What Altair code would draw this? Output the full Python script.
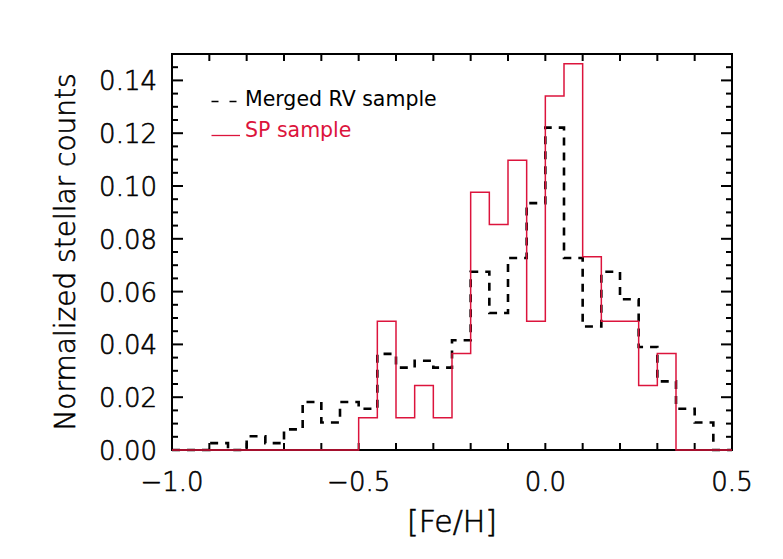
import altair as alt
import pandas as pd

# ---- data ----
bin_left = [-1.00, -0.95, -0.90, -0.85, -0.80, -0.75, -0.70, -0.65, -0.60, -0.55,
            -0.50, -0.45, -0.40, -0.35, -0.30, -0.25, -0.20, -0.15, -0.10, -0.05,
            0.00, 0.05, 0.10, 0.15, 0.20, 0.25, 0.30, 0.35, 0.40, 0.45]
x_end = 0.50

merged_rv = [0.0, 0.0, 0.0026, 0.0, 0.0052, 0.0026, 0.0078, 0.0182, 0.0104, 0.0182,
             0.0156, 0.0364, 0.0312, 0.0338, 0.0312, 0.0416, 0.0675, 0.0519, 0.0727, 0.0935,
             0.1221, 0.0727, 0.0468, 0.0675, 0.0571, 0.0390, 0.0260, 0.0156, 0.0104, 0.0]

sp_sample = [0.0, 0.0, 0.0, 0.0, 0.0, 0.0, 0.0, 0.0, 0.0, 0.0,
             0.0122, 0.0488, 0.0122, 0.0244, 0.0122, 0.0366, 0.0976, 0.0854, 0.1098, 0.0488,
             0.1341, 0.1463, 0.0732, 0.0488, 0.0488, 0.0244, 0.0366, 0.0, 0.0, 0.0]

legend_labels = ["Merged RV sample", "SP sample"]
x_title = "[Fe/H]"
y_title = "Normalized stellar counts"

x_label_values = [-1.0, -0.5, 0.0, 0.5]
y_label_values = [0.00, 0.02, 0.04, 0.06, 0.08, 0.10, 0.12, 0.14]
x_tick_values = [-1.0, -0.9, -0.8, -0.7, -0.6, -0.5, -0.4, -0.3, -0.2, -0.1,
                 0.0, 0.1, 0.2, 0.3, 0.4, 0.5]
y_minor_values = [0.005, 0.010, 0.015, 0.025, 0.030, 0.035, 0.045, 0.050, 0.055,
                  0.065, 0.070, 0.075, 0.085, 0.090, 0.095, 0.105, 0.110, 0.115,
                  0.125, 0.130, 0.135, 0.145]

RED = "#DC143C"
FONT = "DejaVu Sans"
W, H = 560, 396

def steps(vals):
    return pd.DataFrame({"x": bin_left + [x_end], "y": vals + [vals[-1]]})

xscale = alt.Scale(domain=[-1.0, 0.5], nice=False, zero=False)
yscale = alt.Scale(domain=[0.0, 0.15], nice=False, zero=False)

one = pd.DataFrame({"a": [0]})

frame = alt.Chart(one).mark_rect(fill="white", stroke="black", strokeWidth=2).encode(
    x=alt.value(0), x2=alt.value(W), y=alt.value(0), y2=alt.value(H))

black_line = alt.Chart(steps(merged_rv)).mark_line(
    interpolate="step-after", color="black", strokeWidth=2.6, strokeDash=[8, 7]
).encode(x=alt.X("x:Q", scale=xscale, axis=None), y=alt.Y("y:Q", scale=yscale, axis=None))

red_line = alt.Chart(steps(sp_sample)).mark_line(
    interpolate="step-after", color=RED, strokeWidth=1.5
).encode(x=alt.X("x:Q", scale=xscale, axis=None), y=alt.Y("y:Q", scale=yscale, axis=None))

xt = pd.DataFrame({"v": x_tick_values})
ymaj = pd.DataFrame({"v": y_label_values})
ymin = pd.DataFrame({"v": y_minor_values})
xlab = pd.DataFrame({"v": x_label_values})

tick_style = dict(color="black", strokeWidth=2)
xt_bot = alt.Chart(xt).mark_rule(**tick_style).encode(
    x=alt.X("v:Q", scale=xscale, axis=None), y=alt.value(H), y2=alt.value(H - 7))
xt_top = alt.Chart(xt).mark_rule(**tick_style).encode(
    x=alt.X("v:Q", scale=xscale, axis=None), y=alt.value(0), y2=alt.value(7))
yt_maj_l = alt.Chart(ymaj).mark_rule(**tick_style).encode(
    y=alt.Y("v:Q", scale=yscale, axis=None), x=alt.value(0), x2=alt.value(11))
yt_maj_r = alt.Chart(ymaj).mark_rule(**tick_style).encode(
    y=alt.Y("v:Q", scale=yscale, axis=None), x=alt.value(W), x2=alt.value(W - 11))
yt_min_l = alt.Chart(ymin).mark_rule(**tick_style).encode(
    y=alt.Y("v:Q", scale=yscale, axis=None), x=alt.value(0), x2=alt.value(6))
yt_min_r = alt.Chart(ymin).mark_rule(**tick_style).encode(
    y=alt.Y("v:Q", scale=yscale, axis=None), x=alt.value(W), x2=alt.value(W - 6))

# tick labels and titles (thin face with a light stroke, like the IDL vector font)
txt_style = dict(font=FONT, fontWeight=200, color="black", stroke="black", strokeWidth=0.6)
x_labels = alt.Chart(xlab).mark_text(align="center", baseline="top", fontSize=26, **txt_style).encode(
    x=alt.X("v:Q", scale=xscale, axis=None), y=alt.value(H + 20),
    text=alt.Text("v:Q", format=".1f"))
y_labels = alt.Chart(ymaj).mark_text(align="right", baseline="middle", fontSize=26, dy=2,
                                     **txt_style).encode(
    y=alt.Y("v:Q", scale=yscale, axis=None), x=alt.value(-15),
    text=alt.Text("v:Q", format=".2f"))
x_tt = alt.Chart(one).mark_text(align="center", baseline="middle", fontSize=30, **txt_style).encode(
    x=alt.value(W / 2), y=alt.value(H + 73), text=alt.value(x_title))
y_tt = alt.Chart(one).mark_text(align="center", baseline="middle", fontSize=28, angle=270,
                                **txt_style).encode(
    x=alt.value(-105), y=alt.value(H / 2), text=alt.value(y_title))

# legend
lg_black = alt.Chart(one).mark_rule(
    color="black", strokeWidth=1.6, strokeDash=[7, 11]
).encode(x=alt.value(39.5), x2=alt.value(68), y=alt.value(47.5))
lg_red = alt.Chart(one).mark_rule(
    color=RED, strokeWidth=1.3
).encode(x=alt.value(39.5), x2=alt.value(68), y=alt.value(81.5))
lg_t1 = alt.Chart(one).mark_text(
    align="left", baseline="middle", font=FONT, fontSize=20.5, color="black"
).encode(x=alt.value(73), y=alt.value(46), text=alt.value(legend_labels[0]))
lg_t2 = alt.Chart(one).mark_text(
    align="left", baseline="middle", font=FONT, fontSize=20.5, color=RED
).encode(x=alt.value(73), y=alt.value(77), text=alt.value(legend_labels[1]))

chart = alt.layer(
    frame, xt_bot, xt_top, yt_maj_l, yt_maj_r, yt_min_l, yt_min_r,
    black_line, red_line, x_labels, y_labels, x_tt, y_tt,
    lg_black, lg_red, lg_t1, lg_t2
).properties(
    width=W, height=H,
    autosize=alt.AutoSizeParams(type="none"),
    padding={"left": 164, "top": 46, "right": 43, "bottom": 101},
    background="white",
).configure_view(stroke="transparent")

chart.save("out.html", embed_options={"renderer": "svg", "actions": False})
